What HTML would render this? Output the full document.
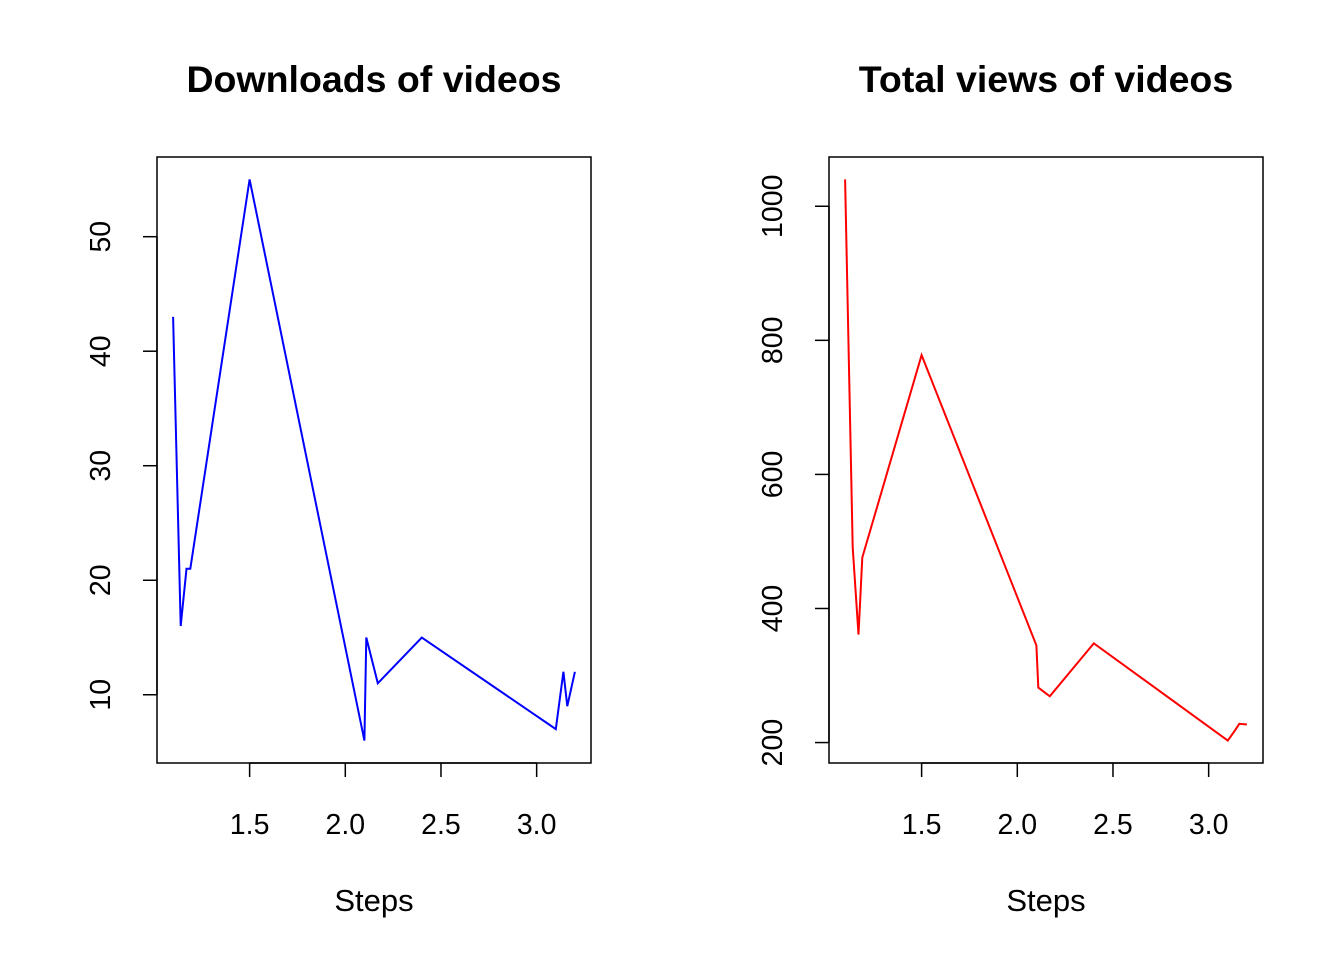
<!DOCTYPE html>
<html><head><meta charset="utf-8"><style>
body{margin:0;background:#fff}
svg{display:block;font-family:"Liberation Sans",Arial,sans-serif}
</style></head><body>
<svg id="c" width="1344" height="960"></svg>
<script>
const steps = [1.1, 1.14, 1.17, 1.19, 1.5, 2.1, 2.11, 2.17, 2.4, 3.1, 3.14, 3.16, 3.2];
const downloads = [43, 16, 21, 21, 55, 6, 15, 11, 15, 7, 12, 9, 12];
const views = [1040, 491, 361, 476, 778, 345, 282, 269, 348, 203, 219, 228, 227];
const xTicks = [1.5, 2.0, 2.5, 3.0];
const xTickLabels = ["1.5", "2.0", "2.5", "3.0"];
const dlTicks = [10, 20, 30, 40, 50];
const viewTicks = [200, 400, 600, 800, 1000];

const NS = "http://www.w3.org/2000/svg";
const svg = document.getElementById('c');
function mk(tag, attrs, parent){const e=document.createElementNS(NS,tag);for(const k in attrs)e.setAttribute(k,attrs[k]);(parent||svg).appendChild(e);return e;}

function panel(x0, x1, title, ys, yt, color, name){
  const y0=157, y1=763;
  const g=mk('g',{});
  
  
  const xmin=Math.min(...steps), xmax=Math.max(...steps), xr=xmax-xmin;
  const ymin=Math.min(...ys), ymax=Math.max(...ys), yr=ymax-ymin;
  const xs=v=>x0+(v-(xmin-0.04*xr))/(xr*1.08)*(x1-x0);
  const yS=v=>y1-(v-(ymin-0.04*yr))/(yr*1.08)*(y1-y0);
  const t=mk('text',{x:(x0+x1)/2,y:92,'text-anchor':'middle','font-size':37.5,'font-weight':'bold'},g);
  t.textContent=title;
  
  
  const box=mk('rect',{x:x0,y:y0,width:x1-x0,height:y1-y0,fill:'none',stroke:'#000','stroke-width':1.5},g);
  
  
  const xa=mk('g',{},g);
  
  
  mk('line',{x1:xs(xTicks[0]),x2:xs(xTicks[xTicks.length-1]),y1:y1,y2:y1,stroke:'#000','stroke-width':1.5},xa);
  xTicks.forEach((v,i)=>{
    mk('line',{x1:xs(v),x2:xs(v),y1:y1,y2:y1+14,stroke:'#000','stroke-width':1.5},xa);
    const l=mk('text',{x:xs(v),y:834,'text-anchor':'middle','font-size':28.5},xa);
    l.textContent=xTickLabels[i];
    
    
  });
  const xl=mk('text',{x:(x0+x1)/2,y:911,'text-anchor':'middle','font-size':31},g);
  xl.textContent='Steps';
  
  
  const ya=mk('g',{},g);
  
  
  mk('line',{x1:x0,x2:x0,y1:yS(yt[0]),y2:yS(yt[yt.length-1]),stroke:'#000','stroke-width':1.5},ya);
  yt.forEach(v=>{
    mk('line',{x1:x0-14,x2:x0,y1:yS(v),y2:yS(v),stroke:'#000','stroke-width':1.5},ya);
    const cx=x0-57;
    const l=mk('text',{x:cx,y:yS(v),'text-anchor':'middle','font-size':28.5,transform:`rotate(-90 ${cx} ${yS(v)})`,dy:10},ya);
    l.textContent=String(v);
    
    
  });
  const pts=steps.map((s,i)=>xs(s).toFixed(1)+','+yS(ys[i]).toFixed(1)).join(' ');
  const pl=mk('polyline',{points:pts,fill:'none',stroke:color,'stroke-width':2,'stroke-linejoin':'miter'},g);
  
  
}
panel(157,591,'Downloads of videos',downloads,dlTicks,'#0000ff','downloads');
panel(829,1263,'Total views of videos',views,viewTicks,'#ff0000','views');
</script>
</body></html>
